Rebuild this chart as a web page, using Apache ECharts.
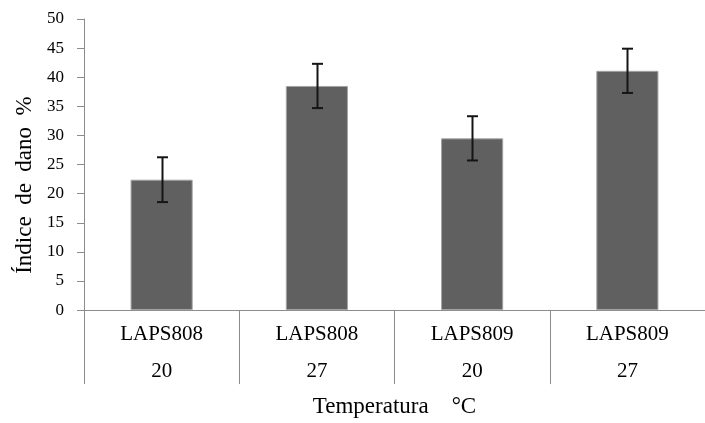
<!DOCTYPE html>
<html>
<head>
<meta charset="utf-8">
<script src="https://cdn.jsdelivr.net/npm/echarts@6/dist/echarts.min.js"></script>
<style>
  html, body { margin: 0; padding: 0; background: #fff; }
  #chart { width: 705px; height: 423px; }
</style>
</head>
<body>
<div id="chart"></div>
<script>
// Damage index per cultivar / temperature
var cultivars = ['LAPS808', 'LAPS808', 'LAPS809', 'LAPS809'];
var temps = ['20', '27', '20', '27'];
var means = [22.4, 38.5, 29.5, 41.1];
var errors = [3.85, 3.8, 3.8, 3.8];
var yTicks = [0, 50, 5];

var categories = cultivars.map(function(c, i) { return c + '\n' + temps[i]; });
var axisGray = '#8c8c8c';
var font = '"Liberation Serif", "Times New Roman", serif';

var chart = echarts.init(document.getElementById('chart'), null, { renderer: 'canvas' });
chart.setOption({
  animation: false,
  // plot runs past the right edge, as in the cropped original
  grid: { left: 84, top: 19, bottom: 105, width: 632, containLabel: false },
  xAxis: {
    type: 'category',
    data: categories,
    name: 'Temperatura    °C',
    nameLocation: 'middle',
    nameGap: 81,
    nameTextStyle: { color: '#000', fontFamily: font, fontSize: 23, lineHeight: 23 },
    axisLine: { show: true, lineStyle: { color: axisGray, width: 1 } },
    axisTick: { show: true, interval: 0, length: 74, lineStyle: { color: axisGray } },
    axisLabel: {
      interval: 0,
      margin: 6,
      color: '#000',
      fontFamily: font,
      fontSize: 21,
      lineHeight: 37
    }
  },
  yAxis: {
    type: 'value',
    min: yTicks[0], max: yTicks[1], interval: yTicks[2],
    name: 'Índice  de  dano  %',
    nameLocation: 'middle',
    nameGap: 44,
    nameTextStyle: { color: '#000', fontFamily: font, fontSize: 23, lineHeight: 23, padding: [0, 41, 0, 0] },
    axisLine: { show: true, lineStyle: { color: axisGray } },
    axisTick: { show: true, length: 7, lineStyle: { color: axisGray } },
    axisLabel: { color: '#000', fontFamily: font, fontSize: 17, margin: 20 },
    splitLine: { show: false }
  },
  series: [{
    type: 'bar',
    data: means,
    barWidth: '40%',
    itemStyle: { color: '#606060', borderColor: '#a4a4a4', borderWidth: 1 }
  }, {
    type: 'custom',
    data: means.map(function(m, i) { return [i, m - errors[i], m + errors[i]]; }),
    renderItem: function(params, api) {
      var lo = api.coord([api.value(0), api.value(1)]);
      var hi = api.coord([api.value(0), api.value(2)]);
      var x = Math.round(lo[0]) + 0.5;
      var half = 5.5;
      var style = { stroke: '#151515', lineWidth: 2 };
      return {
        type: 'group',
        children: [
          { type: 'line', shape: { x1: x, y1: hi[1], x2: x, y2: lo[1] }, style: style },
          { type: 'line', shape: { x1: x - half, y1: hi[1], x2: x + half, y2: hi[1] }, style: style },
          { type: 'line', shape: { x1: x - half, y1: lo[1], x2: x + half, y2: lo[1] }, style: style }
        ]
      };
    },
    z: 5
  }]
});
</script>
</body>
</html>
